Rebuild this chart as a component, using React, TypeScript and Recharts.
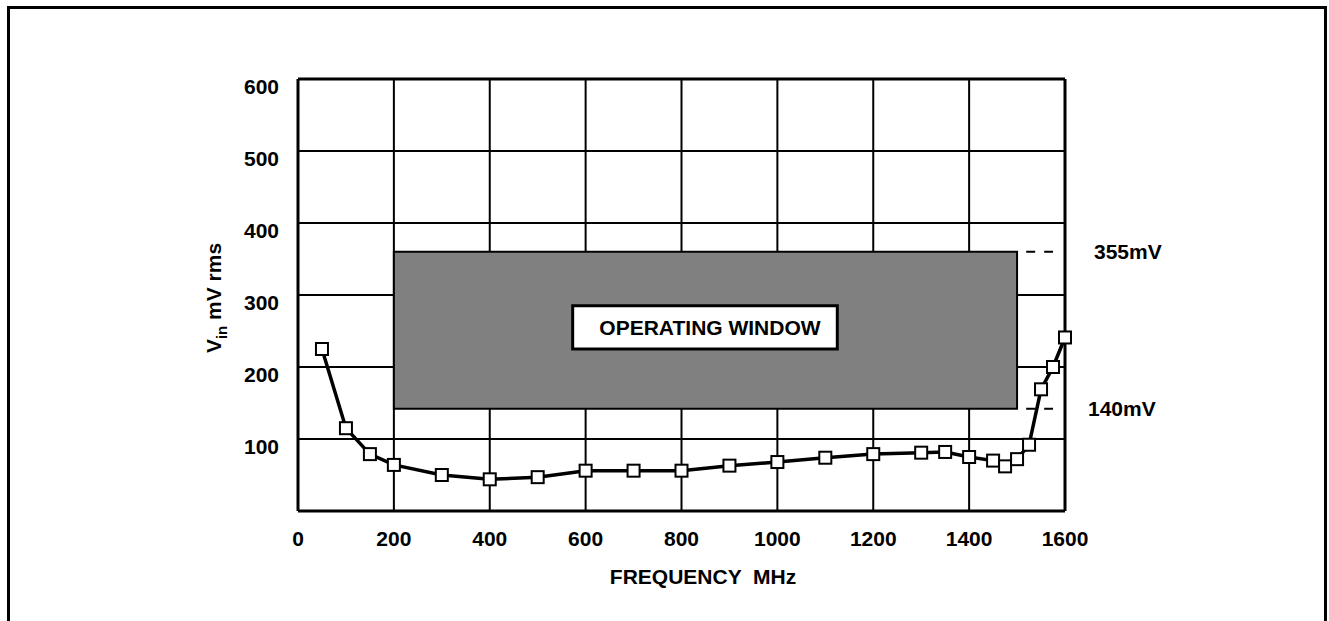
import { LineChart, Line, XAxis, YAxis, CartesianGrid, ReferenceArea, ReferenceLine } from 'recharts';

const freqMHz = [50, 100, 150, 200, 300, 400, 500, 600, 700, 800, 900, 1000, 1100, 1200, 1300, 1350, 1400, 1450, 1475, 1500, 1525, 1550, 1575, 1600];
const vinMv = [225, 115, 79, 64, 50, 44, 47, 56, 56, 56, 63, 68, 74, 79, 81, 82, 75, 70, 62, 72, 92, 169, 200, 241];
const xTicks = [0, 200, 400, 600, 800, 1000, 1200, 1400, 1600];
const yTicks = [0, 100, 200, 300, 400, 500, 600];

// operating window: frequency span and level span (as drawn)
const windowFreq = [200, 1500];
const windowLevel = [142, 360];
const windowLabels = ['355mV', '140mV'];

const data = freqMHz.map((f, i) => ({ f, v: vinMv[i] }));

const FONT = '"Liberation Sans", Arial, Helvetica, sans-serif';

function SquareDot(props: any) {
  const { cx, cy } = props;
  if (cx == null || cy == null) return null;
  return <rect x={cx - 6} y={cy - 6} width={12} height={12} fill="#fff" stroke="#000" strokeWidth={2} />;
}

export default function App() {
  const tickStyle = { fontSize: 21, fontWeight: 700, fill: '#000', fontFamily: FONT };
  const dashLabel = { position: 'right' as const, fontSize: 21, fontWeight: 700, fill: '#000', fontFamily: FONT };
  return (
    <div style={{ position: 'relative', width: 1329, height: 621, overflow: 'hidden', background: '#fff' }}>
      <style>{'body{margin:0}'}</style>
      <div
        style={{
          position: 'absolute',
          left: 7,
          top: 6,
          width: 1320,
          height: 640,
          border: '3px solid #000',
          boxSizing: 'border-box',
        }}
      />
      <div style={{ position: 'absolute', left: 0, top: 0 }}>
        <LineChart width={1329} height={621} data={data} margin={{ top: 79, right: 264, left: 218, bottom: 80 }}>
          <CartesianGrid stroke="#000" strokeWidth={2} horizontalValues={yTicks} verticalValues={xTicks} />
          <XAxis
            dataKey="f"
            type="number"
            domain={[0, 1600]}
            ticks={xTicks}
            height={30}
            axisLine={{ stroke: '#000', strokeWidth: 3 }}
            tickLine={false}
            tickSize={8}
            tickMargin={12}
            tick={tickStyle}
            label={{
              content: () => (
                <text x={703} y={584} textAnchor="middle" fontSize={21} fontWeight={700} fontFamily={FONT} fill="#000" style={{ whiteSpace: 'pre' }}>
                  FREQUENCY  MHz
                </text>
              ),
            }}
          />
          <YAxis
            type="number"
            domain={[0, 600]}
            ticks={yTicks}
            width={80}
            axisLine={{ stroke: '#000', strokeWidth: 3 }}
            tickLine={false}
            tickSize={4}
            tickMargin={15}
            tick={{ ...tickStyle, dy: 8 }}
            tickFormatter={(v: number) => (v === 0 ? '' : String(v))}
            label={{
              content: () => (
                <text transform="translate(221,298) rotate(-90)" textAnchor="middle" fontSize={21} fontWeight={700} fontFamily={FONT} fill="#000">
                  V<tspan fontSize={15} dy={6}>in</tspan>
                  <tspan dy={-6}> mV rms</tspan>
                </text>
              ),
            }}
          />
          <ReferenceLine y={600} stroke="#000" strokeWidth={3} />
          <ReferenceLine x={1600} stroke="#000" strokeWidth={3} />
          <ReferenceArea
            x1={windowFreq[0]}
            x2={windowFreq[1]}
            y1={windowLevel[0]}
            y2={windowLevel[1]}
            fill="#808080"
            fillOpacity={1}
            stroke="#000"
            strokeWidth={2}
          />
          <ReferenceLine
            segment={[{ x: 1519, y: windowLevel[1] }, { x: 1575, y: windowLevel[1] }]}
            stroke="#000"
            strokeWidth={2}
            strokeDasharray="9 9"
            label={{ ...dashLabel, value: windowLabels[0], offset: 41 }}
          />
          <ReferenceLine
            segment={[{ x: 1519, y: windowLevel[0] }, { x: 1575, y: windowLevel[0] }]}
            stroke="#000"
            strokeWidth={2}
            strokeDasharray="9 9"
            label={{ ...dashLabel, value: windowLabels[1], offset: 35 }}
          />
          <ReferenceArea
            x1={573}
            x2={1125}
            y1={225}
            y2={285}
            fill="#fff"
            fillOpacity={1}
            stroke="#000"
            strokeWidth={3}
            label={{ value: 'OPERATING WINDOW', position: 'center', dx: 5, fontSize: 21, fontWeight: 700, fill: '#000', fontFamily: FONT }}
          />
          <Line
            type="linear"
            dataKey="v"
            stroke="#000"
            strokeWidth={3.5}
            dot={<SquareDot />}
            activeDot={false}
            isAnimationActive={false}
          />
        </LineChart>
      </div>
    </div>
  );
}
